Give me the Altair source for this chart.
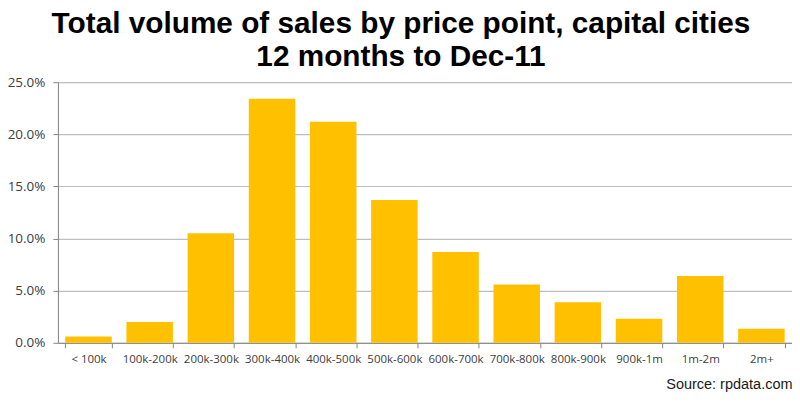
import altair as alt
import pandas as pd

categories = ["< 100k", "100k-200k", "200k-300k", "300k-400k", "400k-500k", "500k-600k",
              "600k-700k", "700k-800k", "800k-900k", "900k-1m", "1m-2m", "2m+"]
shares = [0.006, 0.020, 0.105, 0.234, 0.212, 0.137, 0.087, 0.056, 0.039, 0.023, 0.064, 0.0135]
y_ticks = [0.0, 0.05, 0.10, 0.15, 0.20, 0.25]

df = pd.DataFrame({"category": categories, "share": shares})

label_font = "Open Sans"

chart = alt.Chart(df).mark_bar(color="#FFC000").encode(
    x=alt.X("category:N", sort=categories,
            scale=alt.Scale(paddingInner=0.24, paddingOuter=0.12),
            axis=alt.Axis(title="Source: rpdata.com", titleAnchor="end", titleAlign="right",
                          titleFont="Liberation Sans", titleFontSize=14.5, titleFontWeight="normal",
                          titleColor="#1a1a1a", titlePadding=12,
                          labelAngle=0, labelFont=label_font, labelFontSize=11.5,
                          labelColor="#404040", labelPadding=6,
                          domainColor="#868686", tickColor="#868686", tickSize=5,
                          tickBand="extent", grid=False)),
    y=alt.Y("share:Q", scale=alt.Scale(domain=[0, 0.25], nice=False),
            axis=alt.Axis(title=None, format=".1%", values=y_ticks,
                          labelFont=label_font, labelFontSize=13.5, labelColor="#404040",
                          labelPadding=8, domainColor="#868686", tickColor="#868686",
                          tickSize=5, gridColor="#BEBEBE", gridWidth=1.2)),
).properties(
    width=735, height=261,
    title=alt.TitleParams(
        text=["Total volume of sales by price point, capital cities", "12 months to Dec-11"],
        font="Liberation Sans", fontSize=29.8, fontWeight="bold", color="#000000",
        anchor="middle", dx=-24, offset=3, lineHeight=33),
    autosize=alt.AutoSizeParams(type="none"),
    padding={"left": 50, "top": 74, "right": 0, "bottom": 60},
).configure_view(stroke=None).configure(background="white")

chart.save("out.html", embed_options={"renderer": "svg", "actions": False})
